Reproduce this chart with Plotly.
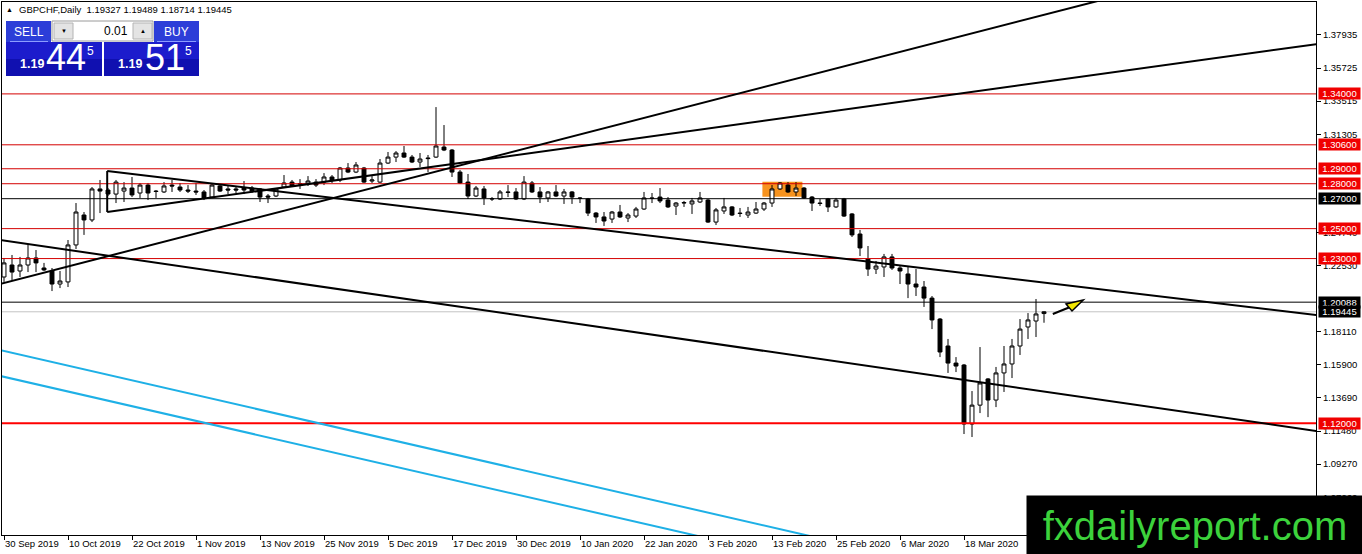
import pandas as pd
import plotly.graph_objects as go

# ---------------- data ----------------
holidays = ["2019-12-25", "2020-01-01"]
dates = [d for d in pd.bdate_range("2019-09-30", "2020-04-01") if d.strftime("%Y-%m-%d") not in holidays]

opens = [1.2177, 1.2257, 1.2217, 1.2257, 1.2304, 1.2237, 1.2217, 1.2130, 1.2144, 1.2391,
         1.2591, 1.2558, 1.2765, 1.2758, 1.2731, 1.2751, 1.2771, 1.2738, 1.2791, 1.2751,
         1.2745, 1.2791, 1.2778, 1.2758, 1.2751, 1.2745, 1.2711, 1.2785, 1.2765, 1.2765,
         1.2771, 1.2771, 1.2765, 1.2718, 1.2718, 1.2778, 1.2811, 1.2798, 1.2798, 1.2811,
         1.2811, 1.2845, 1.2825, 1.2905, 1.2878, 1.2905, 1.2818, 1.2811, 1.2938, 1.2978,
         1.3005, 1.2978, 1.2945, 1.2972, 1.2978, 1.3045, 1.3025, 1.2878, 1.2811, 1.2718,
         1.2765, 1.2698, 1.2698, 1.2745, 1.2745, 1.2698, 1.2805, 1.2745, 1.2705, 1.2745,
         1.2718, 1.2745, 1.2705, 1.2698, 1.2604, 1.2578, 1.2564, 1.2611, 1.2571, 1.2584,
         1.2631, 1.2705, 1.2711, 1.2691, 1.2651, 1.2671, 1.2665, 1.2678, 1.2691, 1.2544,
         1.2618, 1.2645, 1.2604, 1.2591, 1.2604, 1.2631, 1.2671, 1.2765, 1.2791, 1.2745,
         1.2771, 1.2711, 1.2671, 1.2698, 1.2645, 1.2698, 1.2598, 1.2464, 1.2297, 1.2230,
         1.2244, 1.2311, 1.2237, 1.2197, 1.2130, 1.2110, 1.2036, 1.1896, 1.1716, 1.1602,
         1.1589, 1.1195, 1.1321, 1.1496, 1.1355, 1.1536, 1.1596, 1.1716, 1.1843, 1.1883,
         1.19327]
highs = [1.2304, 1.2324, 1.2311, 1.2391, 1.2357, 1.2271, 1.2237, 1.2217, 1.2424, 1.2671,
         1.2611, 1.2778, 1.2825, 1.2771, 1.2825, 1.2811, 1.2845, 1.2805, 1.2805, 1.2758,
         1.2811, 1.2825, 1.2805, 1.2791, 1.2805, 1.2758, 1.2798, 1.2791, 1.2791, 1.2785,
         1.2818, 1.2785, 1.2771, 1.2731, 1.2771, 1.2858, 1.2825, 1.2831, 1.2851, 1.2831,
         1.2871, 1.2858, 1.2912, 1.2938, 1.2945, 1.2912, 1.2851, 1.2965, 1.3012, 1.3018,
         1.3052, 1.2992, 1.3005, 1.2992, 1.3312, 1.3192, 1.3032, 1.2892, 1.2865, 1.2785,
         1.2785, 1.2711, 1.2758, 1.2791, 1.2771, 1.2851, 1.2818, 1.2778, 1.2751, 1.2791,
         1.2765, 1.2751, 1.2711, 1.2705, 1.2611, 1.2611, 1.2618, 1.2658, 1.2604, 1.2645,
         1.2745, 1.2738, 1.2771, 1.2711, 1.2678, 1.2685, 1.2705, 1.2745, 1.2698, 1.2638,
         1.2705, 1.2651, 1.2638, 1.2645, 1.2678, 1.2678, 1.2791, 1.2811, 1.2811, 1.2811,
         1.2778, 1.2718, 1.2698, 1.2705, 1.2705, 1.2705, 1.2604, 1.2491, 1.2384, 1.2284,
         1.2331, 1.2331, 1.2257, 1.2244, 1.2230, 1.2150, 1.2050, 1.1903, 1.1763, 1.1642,
         1.1596, 1.1415, 1.1709, 1.1502, 1.1576, 1.1716, 1.1763, 1.1896, 1.1936, 1.2030,
         1.19489]
lows = [1.2144, 1.2157, 1.2177, 1.2210, 1.2210, 1.2217, 1.2083, 1.2103, 1.2110, 1.2364,
        1.2458, 1.2544, 1.2604, 1.2718, 1.2671, 1.2678, 1.2711, 1.2705, 1.2691, 1.2705,
        1.2738, 1.2745, 1.2745, 1.2738, 1.2725, 1.2691, 1.2705, 1.2745, 1.2731, 1.2738,
        1.2731, 1.2738, 1.2678, 1.2671, 1.2711, 1.2771, 1.2778, 1.2765, 1.2785, 1.2778,
        1.2791, 1.2805, 1.2811, 1.2871, 1.2871, 1.2805, 1.2805, 1.2805, 1.2932, 1.2945,
        1.2972, 1.2938, 1.2912, 1.2878, 1.2972, 1.3018, 1.2845, 1.2798, 1.2698, 1.2711,
        1.2658, 1.2685, 1.2691, 1.2711, 1.2691, 1.2691, 1.2738, 1.2671, 1.2678, 1.2711,
        1.2665, 1.2665, 1.2671, 1.2584, 1.2538, 1.2518, 1.2538, 1.2571, 1.2544, 1.2571,
        1.2625, 1.2671, 1.2671, 1.2638, 1.2591, 1.2645, 1.2598, 1.2671, 1.2538, 1.2524,
        1.2598, 1.2584, 1.2578, 1.2571, 1.2598, 1.2618, 1.2645, 1.2758, 1.2738, 1.2718,
        1.2698, 1.2618, 1.2651, 1.2611, 1.2638, 1.2578, 1.2444, 1.2317, 1.2184, 1.2197,
        1.2177, 1.2224, 1.2130, 1.2036, 1.2050, 1.1977, 1.1829, 1.1642, 1.1536, 1.1542,
        1.1128, 1.1108, 1.1268, 1.1241, 1.1308, 1.1409, 1.1502, 1.1656, 1.1763, 1.1776,
        1.18714]
closes = [1.2271, 1.2210, 1.2257, 1.2304, 1.2271, 1.2224, 1.2130, 1.2150, 1.2391, 1.2611,
          1.2558, 1.2765, 1.2751, 1.2731, 1.2811, 1.2771, 1.2725, 1.2791, 1.2738, 1.2748,
          1.2785, 1.2785, 1.2758, 1.2751, 1.2745, 1.2705, 1.2791, 1.2751, 1.2758, 1.2758,
          1.2758, 1.2751, 1.2711, 1.2711, 1.2765, 1.2805, 1.2785, 1.2801, 1.2818, 1.2791,
          1.2845, 1.2825, 1.2905, 1.2878, 1.2925, 1.2811, 1.2825, 1.2938, 1.2978, 1.3005,
          1.2978, 1.2945, 1.2965, 1.2968, 1.3052, 1.3025, 1.2878, 1.2805, 1.2718, 1.2771,
          1.2705, 1.2700, 1.2745, 1.2742, 1.2698, 1.2811, 1.2745, 1.2711, 1.2745, 1.2718,
          1.2745, 1.2711, 1.2702, 1.2604, 1.2578, 1.2551, 1.2611, 1.2578, 1.2591, 1.2631,
          1.2705, 1.2702, 1.2685, 1.2645, 1.2671, 1.2674, 1.2685, 1.2705, 1.2544, 1.2625,
          1.2645, 1.2591, 1.2601, 1.2611, 1.2631, 1.2671, 1.2765, 1.2805, 1.2745, 1.2771,
          1.2705, 1.2671, 1.2668, 1.2645, 1.2691, 1.2584, 1.2458, 1.2371, 1.2230, 1.2250,
          1.2311, 1.2237, 1.2217, 1.2130, 1.2110, 1.2036, 1.1890, 1.1676, 1.1602, 1.1582,
          1.1195, 1.1321, 1.1469, 1.1355, 1.1536, 1.1596, 1.1716, 1.1829, 1.1890, 1.1930,
          1.19445]

# horizontal levels
red_levels = [1.34000, 1.30600, 1.29000, 1.28000, 1.25000, 1.23000]
strong_red_level = 1.12000
black_levels = [1.27000, 1.20088]
bid_price = 1.19445
ask_price = 1.19515

# trend lines drawn on the chart: (bar index, price) anchors
steep_line = [(0, 1.2137), (130, 1.3928)]
tri_upper = [(12.9, 1.2885), (130, 1.2140)]
tri_lower = [(12.9, 1.2611), (130, 1.3480)]
down_line = [(0, 1.2420), (130, 1.1412)]
cyan_line_1 = [(0, 1.1683), (99, 1.0468)]
cyan_line_2 = [(0, 1.1510), (85, 1.0468)]
orange_box = [(94.8, 1.2713), (99.8, 1.2814)]
arrow_pts = [(131.1, 1.1930), (134.9, 1.2023)]
arrow_head = [(134.9, 1.2023), (132.75, 1.1997), (133.5, 1.1950)]

# visible price-scale ticks (others are hidden under the level labels)
y_ticks = [1.37935, 1.35725, 1.33515, 1.31305, 1.24740, 1.22530,
           1.18110, 1.15900, 1.13690, 1.11480, 1.09270, 1.07060]
x_tick_labels = ["30 Sep 2019", "10 Oct 2019", "22 Oct 2019", "1 Nov 2019", "13 Nov 2019",
                 "25 Nov 2019", "5 Dec 2019", "17 Dec 2019", "30 Dec 2019", "10 Jan 2020",
                 "22 Jan 2020", "3 Feb 2020", "13 Feb 2020", "25 Feb 2020", "6 Mar 2020",
                 "18 Mar 2020", "30 Mar 2020"]

# ---------------- layout geometry ----------------
W, H = 1362, 554
ML, MT, MR, MB = 2, 2, 46, 19
PW, PH = W - ML - MR, H - MT - MB
X_RANGE = [-0.25, 164.0]
Y_RANGE = [1.04535, 1.40139]


def pxx(px):
    return (px - ML) / PW


def pxy(py):
    return 1 - (py - MT) / PH


idx = list(range(len(dates)))
date_str = [f"{d.day} {d.strftime('%b %Y')}" for d in dates]
tick_vals = [date_str.index(t) for t in x_tick_labels]

FONT = "Liberation Sans, Arial, sans-serif"

fig = go.Figure()
fig.add_trace(go.Candlestick(
    x=idx, open=opens, high=highs, low=lows, close=closes,
    increasing=dict(line=dict(color="black", width=1), fillcolor="white"),
    decreasing=dict(line=dict(color="black", width=1), fillcolor="black"),
    whiskerwidth=0, showlegend=False, hoverinfo="skip",
))

shapes = []
shapes.append(dict(type="rect", xref="x", yref="y", layer="below",
                   x0=orange_box[0][0], y0=orange_box[0][1], x1=orange_box[1][0], y1=orange_box[1][1],
                   fillcolor="#F7931E", line=dict(width=0)))

for lv in red_levels:
    shapes.append(dict(type="line", xref="paper", yref="y", x0=0, x1=1, y0=lv, y1=lv,
                       line=dict(color="#D40000", width=1), layer="above"))
shapes.append(dict(type="line", xref="paper", yref="y", x0=0, x1=1, y0=strong_red_level, y1=strong_red_level,
                   line=dict(color="#FF0000", width=2), layer="above"))
for lv in black_levels:
    shapes.append(dict(type="line", xref="paper", yref="y", x0=0, x1=1, y0=lv, y1=lv,
                       line=dict(color="black", width=1), layer="above"))
shapes.append(dict(type="line", xref="paper", yref="y", x0=0, x1=1, y0=bid_price, y1=bid_price,
                   line=dict(color="#C4C4C4", width=1), layer="below"))


def ext(line, xa, xb):
    (x0, p0), (x1, p1) = line
    k = (p1 - p0) / (x1 - x0)
    return xa, p0 + k * (xa - x0), xb, p0 + k * (xb - x0)


def add_line(line, xa, xb, color, width):
    a, pa, b, pb = ext(line, xa, xb)
    shapes.append(dict(type="line", xref="x", yref="y", x0=a, y0=pa, x1=b, y1=pb,
                       line=dict(color=color, width=width), layer="above"))


add_line(steep_line, -2, 170, "black", 2)
add_line(tri_upper, tri_upper[0][0], 170, "black", 2)
add_line(tri_lower, tri_lower[0][0], 170, "black", 2)
add_line(down_line, -2, 170, "black", 2)
add_line(cyan_line_1, -2, 120, "#1EB0E6", 2)
add_line(cyan_line_2, -2, 120, "#1EB0E6", 2)
shapes.append(dict(type="line", xref="x", yref="y", x0=tri_upper[0][0], x1=tri_lower[0][0],
                   y0=tri_upper[0][1], y1=tri_lower[0][1], line=dict(color="black", width=2), layer="above"))
shapes.append(dict(type="line", xref="x", yref="y", x0=arrow_pts[0][0], y0=arrow_pts[0][1],
                   x1=arrow_head[1][0] * 0.5 + arrow_head[2][0] * 0.5,
                   y1=arrow_head[1][1] * 0.5 + arrow_head[2][1] * 0.5,
                   line=dict(color="black", width=2), layer="above"))
path = "M {} {} L {} {} L {} {} Z".format(*[v for pt in arrow_head for v in pt])
shapes.append(dict(type="path", xref="x", yref="y", path=path, fillcolor="#F2E600",
                   line=dict(color="black", width=1.5), layer="above"))


def prect(x0, y0, x1, y1, fill, line_color=None, lw=0):
    shapes.append(dict(type="rect", xref="paper", yref="paper", layer="above",
                       x0=pxx(x0), x1=pxx(x1), y0=pxy(y1), y1=pxy(y0), fillcolor=fill,
                       line=dict(color=line_color or fill, width=lw)))


prect(6, 21, 51, 42, "#2C3ED8")
prect(154, 21, 199, 42, "#2C3ED8")
prect(6, 42, 102, 59, "#1C1CCC")
prect(6, 59, 102, 76, "#1010B0")
prect(104, 42, 199, 59, "#1C1CCC")
prect(104, 59, 199, 76, "#1010B0")
prect(52, 21, 153, 41, "white", "#9A9A9A", 1)
prect(54, 23, 73, 39, "#E4E4E4", "#B4B4B4", 1)
prect(133, 23, 152, 39, "#E4E4E4", "#B4B4B4", 1)
for xa, xb in [(10, 48), (157, 196)]:
    shapes.append(dict(type="line", xref="paper", yref="paper", layer="above",
                       x0=pxx(xa), x1=pxx(xb), y0=pxy(41.5), y1=pxy(41.5),
                       line=dict(color="#8C9CFF", width=1)))

ann = []


def ptext(text, x, y, size, color="white", xanchor="left", family=FONT):
    ann.append(dict(text=text, xref="paper", yref="paper", x=pxx(x), y=pxy(y), xanchor=xanchor,
                    yanchor="middle", showarrow=False, borderpad=0,
                    font=dict(size=size, color=color, family=family)))


ptext("SELL", 28.5, 31.5, 12, xanchor="center")
ptext("BUY", 176.5, 31.5, 12, xanchor="center")
ptext("▼", 63.5, 31, 6, color="black", xanchor="center")
ptext("▲", 142.5, 31, 6, color="black", xanchor="center")
ptext("0.01", 129, 31, 12, color="black", xanchor="right")

bid_str = f"{bid_price:.5f}"
ask_str = f"{ask_price:.5f}"
ptext("<b>" + bid_str[:4] + "</b>", 19, 64.5, 12.5)
ptext(bid_str[4:6], 45, 57, 36)
ptext(bid_str[6], 86, 51, 12)
ptext("<b>" + ask_str[:4] + "</b>", 117, 64.5, 12.5)
ptext(ask_str[4:6], 144, 57, 36)
ptext(ask_str[6], 184, 51, 12)

ptext("▲", 5, 10, 7, color="black")
ptext("GBPCHF,Daily  {:.5f} {:.5f} {:.5f} {:.5f}".format(opens[-1], highs[-1], lows[-1], closes[-1]),
      18, 10, 9.5, color="black")

for lv in red_levels + [strong_red_level]:
    ann.append(dict(text=f"{lv:.5f}", xref="paper", yref="y", x=pxx(1318), y=lv, xanchor="left",
                    yanchor="middle", showarrow=False, bgcolor="#F00000", borderpad=0,
                    width=41, height=11, font=dict(size=9.5, color="white", family=FONT)))
for lv in black_levels + [bid_price]:
    ann.append(dict(text=f"{lv:.5f}", xref="paper", yref="y", x=pxx(1318), y=lv, xanchor="left",
                    yanchor="middle", showarrow=False, bgcolor="black", borderpad=0,
                    width=41, height=11, font=dict(size=9.5, color="white", family=FONT)))

ann.append(dict(text="fxdailyreport.com", xref="paper", yref="paper", x=pxx(1026), y=pxy(495),
                xanchor="left", yanchor="top", showarrow=False, bgcolor="black", borderpad=0,
                width=336, height=59, font=dict(size=40, color="#3CD23C", family=FONT)))

fig.update_layout(
    width=W, height=H,
    margin=dict(l=ML, r=MR, t=MT, b=MB, pad=0),
    paper_bgcolor="white", plot_bgcolor="white",
    shapes=shapes, annotations=ann,
    font=dict(family=FONT, size=9.5, color="black"),
    showlegend=False,
    xaxis=dict(range=X_RANGE, rangeslider=dict(visible=False), showgrid=False, zeroline=False,
               tickmode="array", tickvals=tick_vals, ticktext=x_tick_labels,
               ticks="outside", ticklen=4, tickcolor="black", ticklabelposition="outside right",
               showline=True, linecolor="black", linewidth=1, mirror=True,
               tickfont=dict(size=9.5, color="black", family=FONT)),
    yaxis=dict(range=Y_RANGE, side="right", showgrid=False, zeroline=False,
               tickmode="array", tickvals=y_ticks, ticktext=[f"{v:.5f}" for v in y_ticks],
               ticks="outside", ticklen=4, tickcolor="black",
               showline=True, linecolor="black", linewidth=1, mirror=True,
               tickfont=dict(size=9.5, color="black", family=FONT)),
)

fig.write_html("out.html", config={"displayModeBar": False},
               post_script="document.body.style.margin='0';document.body.style.overflow='hidden';")
